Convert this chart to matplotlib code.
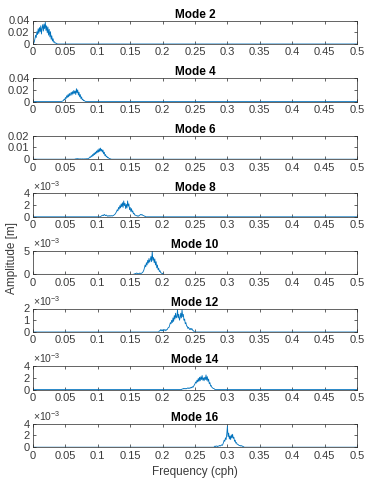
#!/usr/bin/env python3
"""Amplitude spectra of the even tidal modes, one stacked panel per mode."""
import matplotlib
matplotlib.use("Agg")
import matplotlib.pyplot as plt
import numpy as np
from matplotlib.ticker import FuncFormatter

# frequency axis (cph), 0.001 cph resolution
DF = 0.001
FREQ = np.round(np.arange(0, 501) * DF, 3)

MODES = [2, 4, 6, 8, 10, 12, 14, 16]

# first frequency of each non-zero stretch of the spectrum (cph)
SEG_START = [0.000, 0.044, 0.065, 0.105, 0.156, 0.195, 0.230, 0.280]

# amplitudes (m) starting at SEG_START, one value per 0.001 cph
AMP_M2 = [0, 0.001, 0.004, 0.009, 0.015, 0.011, 0.021, 0.016, 0.026, 0.018,
          0.028, 0.021, 0.031, 0.017, 0.027, 0.033, 0.022, 0.034, 0.026, 0.037,
          0.023, 0.031, 0.019, 0.029, 0.015, 0.025, 0.012, 0.021, 0.008, 0.014,
          0.005, 0.009, 0.003, 0.004, 0.0015, 0.002, 0.0008, 0.0005]
AMP_M4 = [0.0003, 0.0005, 0.001, 0.002, 0.004, 0.003, 0.007, 0.005, 0.010, 0.007,
          0.012, 0.008, 0.014, 0.010, 0.013, 0.016, 0.011, 0.017, 0.013, 0.019,
          0.014, 0.018, 0.012, 0.022, 0.015, 0.020, 0.011, 0.016, 0.008, 0.012,
          0.005, 0.008, 0.003, 0.004, 0.0015, 0.002, 0.0008, 0.0004]
AMP_M6 = [0.0002, 0.0003, 0.0004, 0.0003, 0.0005, 0.0003, 0.0003, 0.0002, 0.0003,
          0.0002, 0.0002, 0.0003, 0.0002, 0.0002, 0.0003, 0.0002, 0.0003, 0.0003,
          0.0004, 0.0003, 0.0005,
          0.0008, 0.0012, 0.002, 0.0015, 0.003, 0.0022, 0.004, 0.003, 0.005,
          0.0038, 0.006, 0.0045, 0.007, 0.0055, 0.008, 0.006, 0.009, 0.0065,
          0.0095, 0.007, 0.0085, 0.006, 0.0078, 0.0045, 0.006, 0.003, 0.004,
          0.002, 0.0025, 0.0012, 0.0015, 0.0008, 0.0006, 0.0004, 0.0003]
AMP_M8 = [0.0001, 0.0002, 0.0002, 0.0003, 0.0002, 0.0004, 0.0003, 0.0002, 0.0003,
          0.0002, 0.0001, 0.0002, 0.0001, 0.0002, 0.0001, 0.0002, 0.0002, 0.0001,
          0.0002, 0.0002, 0.0003,
          0.0004, 0.0005, 0.0007, 0.0009, 0.0012, 0.0010, 0.0016, 0.0013, 0.0019,
          0.0015, 0.0022, 0.0017, 0.0024, 0.0016, 0.0027, 0.0019, 0.0023, 0.0014,
          0.0021, 0.0015, 0.0027, 0.0018, 0.0022, 0.0012, 0.0016, 0.0009, 0.0014,
          0.0008, 0.0010, 0.0005, 0.0006, 0.0003, 0.0003,
          0.0002, 0.0002, 0.0001, 0.0002, 0.0001, 0.0002, 0.0003, 0.0004, 0.0003,
          0.0004, 0.0003, 0.0002, 0.0002, 0.0001, 0.0001]
AMP_M10 = [0.0001, 0.0001, 0.0002, 0.0002, 0.0003, 0.0002, 0.0002, 0.0001, 0.0002,
           0.0003, 0.0002, 0.0002, 0.0003, 0.0004, 0.0006,
           0.0009, 0.0014, 0.0020, 0.0016, 0.0025, 0.0020, 0.0030, 0.0024, 0.0034,
           0.0026, 0.0031, 0.0038, 0.0027, 0.0049, 0.0030, 0.0036, 0.0025, 0.0033,
           0.0020, 0.0027, 0.0014, 0.0020, 0.0010, 0.0013, 0.0006, 0.0008, 0.0004,
           0.0003, 0.0002, 0.0002, 0.0001]
AMP_M12 = [0.0001, 0.0001, 0.0002, 0.0001, 0.0002, 0.0001, 0.0002, 0.0001, 0.0002,
           0.0002, 0.0001, 0.0002, 0.0002, 0.0003, 0.0004,
           0.0004, 0.0006, 0.0008, 0.0007, 0.0010, 0.0008, 0.0012, 0.0009, 0.0014,
           0.0011, 0.0016, 0.0012, 0.0013, 0.0019, 0.0012, 0.0015, 0.0010, 0.0012,
           0.0016, 0.0012, 0.0019, 0.0013, 0.0015, 0.0010, 0.0011, 0.0007, 0.0008,
           0.0005, 0.0005, 0.0003, 0.0004, 0.0003, 0.0002, 0.0003, 0.0002, 0.0003,
           0.0002, 0.0001, 0.0001]
AMP_M14 = [0.0001, 0.0001, 0.0002, 0.0001, 0.0002, 0.0002, 0.0001, 0.0002, 0.0002,
           0.0003, 0.0002, 0.0003, 0.0002, 0.0003, 0.0004, 0.0003, 0.0005, 0.0004,
           0.0006, 0.0008,
           0.0010, 0.0013, 0.0011, 0.0016, 0.0013, 0.0019, 0.0014, 0.0021, 0.0015,
           0.0022, 0.0017, 0.0024, 0.0016, 0.0020, 0.0015, 0.0021, 0.0017, 0.0025,
           0.0016, 0.0022, 0.0014, 0.0018, 0.0010, 0.0012, 0.0006, 0.0007, 0.0004,
           0.0003, 0.0002, 0.0002, 0.0001]
AMP_M16 = [0.0001, 0.0002, 0.0001, 0.0002, 0.0002, 0.0001, 0.0002, 0.0002, 0.0003,
           0.0002, 0.0003, 0.0004, 0.0003,
           0.0005, 0.0008, 0.0012, 0.0010, 0.0016, 0.0013, 0.0022, 0.0036, 0.0018,
           0.0024, 0.0014, 0.0019, 0.0013, 0.0021, 0.0016, 0.0022, 0.0015, 0.0017,
           0.0010, 0.0012, 0.0007, 0.0008, 0.0005, 0.0005, 0.0004, 0.0003, 0.0003,
           0.0002, 0.0003, 0.0002, 0.0002, 0.0001, 0.0001]

AMPS = [AMP_M2, AMP_M4, AMP_M6, AMP_M8, AMP_M10, AMP_M12, AMP_M14, AMP_M16]

# y axis upper limit, ticks and exponent shown above the axis (0 = none)
Y_MAX = [0.04, 0.04, 0.02, 0.004, 0.005, 0.002, 0.004, 0.004]
Y_TICKS = [[0, 0.02, 0.04], [0, 0.02, 0.04], [0, 0.01, 0.02], [0, 0.002, 0.004],
           [0, 0.005], [0, 0.001, 0.002], [0, 0.002, 0.004], [0, 0.002, 0.004]]
Y_EXP = [0, 0, 0, -3, -3, -3, -3, -3]

X_TICKS = [0, 0.05, 0.1, 0.15, 0.2, 0.25, 0.3, 0.35, 0.4, 0.45, 0.5]

LINE = "#0072BD"
AX_COL = "#262626"
LABEL_COL = "#3a3a3a"

plt.rcParams["font.family"] = ["Liberation Sans", "DejaVu Sans"]
plt.rcParams["mathtext.fontset"] = "custom"
plt.rcParams["mathtext.rm"] = "Liberation Sans"
plt.rcParams["mathtext.it"] = "Liberation Sans:italic"


def spectrum(start, amps):
    full = np.zeros(len(FREQ))
    i0 = int(round(start / DF))
    full[i0:i0 + len(amps)] = amps
    return full


def fmt_num(v):
    return f"{v:.4f}".rstrip("0").rstrip(".")


def main():
    W, H = 366, 479
    fig = plt.figure(figsize=(W / 100, H / 100), dpi=100)
    fig.patch.set_facecolor("white")

    left, right = 33 / W, 357 / W
    ax_h = 23.5
    for k, mode in enumerate(MODES):
        bottom_px = 44 + 57.6 * k
        ax = fig.add_axes([left, 1 - bottom_px / H, right - left, ax_h / H])
        ax.plot(FREQ, spectrum(SEG_START[k], AMPS[k]), color=LINE, lw=0.6)
        ax.set_xlim(0, 0.5)
        ax.set_ylim(0, Y_MAX[k])
        ax.set_xticks(X_TICKS)
        ax.xaxis.set_major_formatter(FuncFormatter(lambda v, p: fmt_num(v)))
        ax.set_yticks(Y_TICKS[k])
        scale = 10.0 ** (-Y_EXP[k])
        ax.yaxis.set_major_formatter(
            FuncFormatter(lambda v, p, s=scale: fmt_num(v * s)))
        ax.tick_params(direction="in", length=2.5, width=0.5, color=AX_COL,
                       labelsize=8, labelcolor=LABEL_COL, top=True, right=True,
                       pad=2.5)
        for sp in ax.spines.values():
            sp.set_color(AX_COL)
            sp.set_linewidth(0.5)
        ax.set_title(f"Mode {mode}", fontsize=8.5, fontweight="bold",
                     color="black", pad=2)
        if Y_EXP[k]:
            ax.text(0.0, 1.03, rf"$\times10^{{{Y_EXP[k]}}}$",
                    transform=ax.transAxes, fontsize=7.5, color=LABEL_COL,
                    ha="left", va="bottom")

    fig.text(12 / W, 1 - 258 / H, "Amplitude [m]", rotation=90,
             ha="center", va="center", fontsize=8.5, color=LABEL_COL)
    fig.text((33 + 357) / 2 / W, 1 - 472 / H, "Frequency (cph)",
             ha="center", va="center", fontsize=8.5, color=LABEL_COL)

    fig.savefig("out.png", dpi=100, facecolor="white")


if __name__ == "__main__":
    main()
